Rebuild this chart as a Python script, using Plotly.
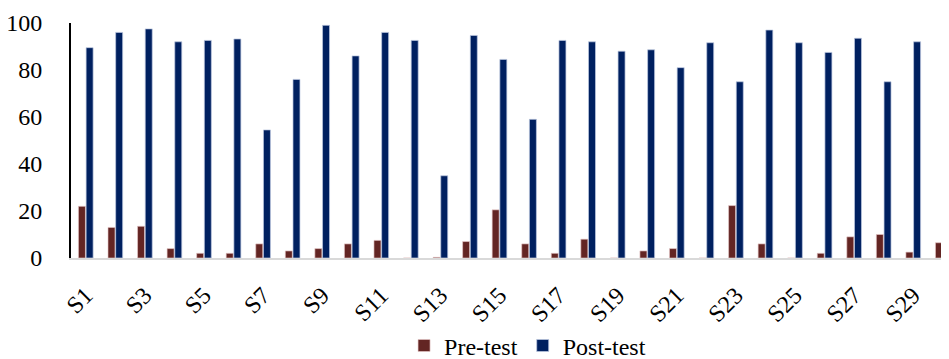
import plotly.graph_objects as go

categories = [f"S{i}" for i in range(1, 31)]
pre_test = [22, 13, 13.5, 4, 2, 2, 6, 3, 4, 6,
            7.5, 0, 0.3, 7, 20.5, 6, 2, 8, 0, 3,
            4, 0, 22.3, 6, 0, 2, 9, 10, 2.5, 6.5]
post_test = [89.5, 96, 97.5, 92, 92.6, 93.2, 54.5, 76, 99, 86,
             96, 92.6, 35, 94.7, 84.5, 59, 92.6, 92, 88, 88.6,
             81, 91.6, 75, 97, 91.6, 87.5, 93.5, 75, 92, 85.5]
y_ticks = [0, 20, 40, 60, 80, 100]

FONT = "Liberation Serif"

fig = go.Figure()
fig.add_trace(go.Bar(x=categories, y=pre_test, name="Pre-test",
                     marker=dict(color="#632523",
                                 line=dict(color="rgba(230,200,200,0.8)", width=0.8))))
fig.add_trace(go.Bar(x=categories, y=post_test, name="Post-test",
                     marker=dict(color="#002060",
                                 line=dict(color="rgba(190,200,225,0.9)", width=0.8))))

fig.update_layout(
    width=941, height=351,
    margin=dict(l=63, r=0, t=15, b=101, autoexpand=False),
    paper_bgcolor="white", plot_bgcolor="white",
    barmode="group", bargap=0.48, bargroupgap=0.09,
    font=dict(family=FONT, size=24, color="black"),
    showlegend=True,
    legend=dict(orientation="h", x=0.52, xanchor="center", y=-0.374, yanchor="middle",
                font=dict(family=FONT, size=24), itemwidth=30, traceorder="normal"),
    xaxis=dict(type="category", range=[-0.5, 29.21], tickmode="array",
               tickvals=categories[::2], ticktext=categories[::2],
               tickangle=-45, showgrid=False, showline=True, linecolor="#d9d9d9",
               linewidth=1.5, ticks="", tickfont=dict(family=FONT, size=24),
               ticklabelstandoff=12, ticklabelshift=0, automargin=False),
    yaxis=dict(range=[0, 100], tickvals=y_ticks, showgrid=False, zeroline=False,
               showline=True, linecolor="black", linewidth=2, ticks="",
               tickfont=dict(family=FONT, size=24), ticklabelstandoff=22,
               automargin=False),
)

fig.write_html("out.html")
